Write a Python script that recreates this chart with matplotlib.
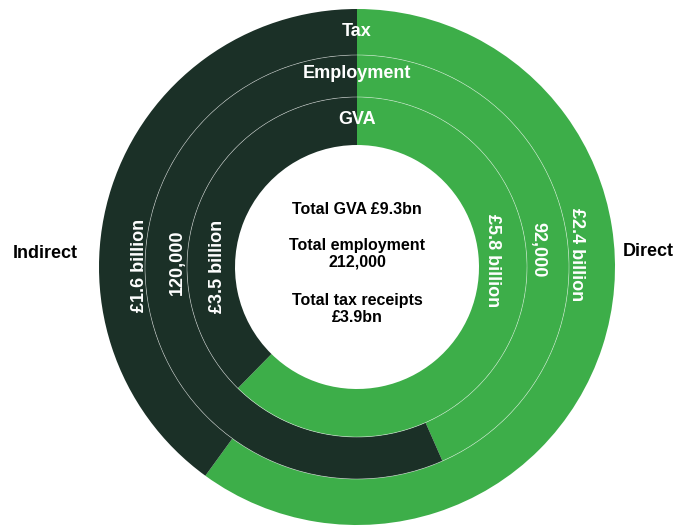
import matplotlib
matplotlib.use("Agg")
import matplotlib.pyplot as plt
from matplotlib.patches import Circle

plt.rcParams['font.family'] = ['Liberation Sans', 'DejaVu Sans']

# data: direct first, then indirect
rings = ["Tax", "Employment", "GVA"]
tax = [2.4, 1.6]            # £bn
employment = [92000, 120000]
gva = [5.8, 3.5]            # £bn
tax_labels = ["£2.4 billion", "£1.6 billion"]
emp_labels = ["92,000", "120,000"]
gva_labels = ["£5.8 billion", "£3.5 billion"]
centre_lines = ["Total GVA £9.3bn", "Total employment\n212,000", "Total tax receipts\n£3.9bn"]

green = "#3dae49"
dark = "#1b3027"

W, H = 678, 529
fig = plt.figure(figsize=(W / 100, H / 100), dpi=100)
ax = fig.add_axes([0, 0, 1, 1])

cx, cy = 357, 267
radii = [258, 212, 170]      # outer edge of each ring
inner = 122

for vals, r_out, r_in in zip([tax, employment, gva], radii, radii[1:] + [inner]):
    ax.pie(vals, radius=r_out, center=(cx, cy), colors=[green, dark],
           startangle=-90, counterclock=True,
           wedgeprops=dict(width=r_out - r_in, linewidth=0, antialiased=True))

# thin separators between rings
for r in radii[1:]:
    ax.add_patch(Circle((cx, cy), r, fill=False, ec="white", lw=0.5, alpha=0.55))

ax.set_xlim(0, W)
ax.set_ylim(H, 0)
ax.set_aspect("equal")
ax.axis("off")

# ring titles
for name, y in zip(rings, [32, 73, 120]):
    ax.text(cx, y, name, color="white", fontsize=13, fontweight="bold",
            ha="center", va="center")

# values, right side (direct) read downward, left side (indirect) read upward
right_pos = [(577, 255), (538, 250), (493, 261)]
left_pos = [(140, 265), (177, 262), (217, 266)]
for labs, (rx, ry), (lx, ly) in zip([tax_labels, emp_labels, gva_labels], right_pos, left_pos):
    ax.text(rx, ry, labs[0], color="white", fontsize=13, fontweight="bold",
            rotation=-90, ha="center", va="center")
    ax.text(lx, ly, labs[1], color="white", fontsize=13, fontweight="bold",
            rotation=90, ha="center", va="center")

ax.text(45, 254, "Indirect", fontsize=13, fontweight="bold", ha="center", va="center")
ax.text(648, 251, "Direct", fontsize=13, fontweight="bold", ha="center", va="center")

for txt, y in zip(centre_lines, [210, 254, 309]):
    ax.text(cx, y, txt, fontsize=11.5, fontweight="bold", ha="center", va="center",
            linespacing=1.1)

fig.savefig("out.png", dpi=100, facecolor="white")
